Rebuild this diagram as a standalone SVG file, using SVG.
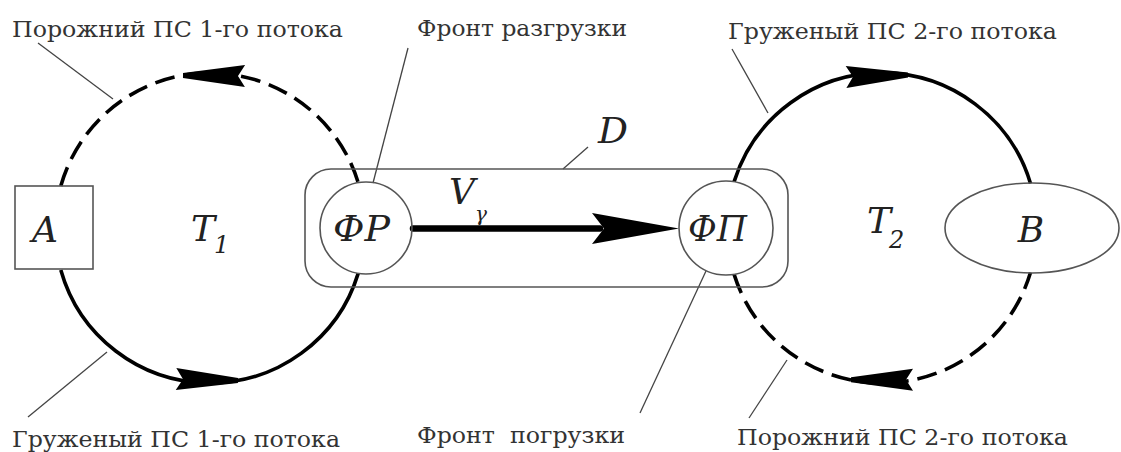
<svg xmlns="http://www.w3.org/2000/svg" width="1121" height="452" viewBox="0 0 1121 452">
<style>
text{font-family:'DejaVu Serif','Liberation Serif',serif}
.lbl{font-size:22px;fill:#333}
.it{font-style:italic;font-size:36px;fill:#222}
.sub{font-style:italic;font-size:24px;fill:#222}
.lead{stroke:#444;stroke-width:1.3;fill:none}
.solid{stroke:#000;stroke-width:3.6;fill:none}
.dash{stroke:#000;stroke-width:3.6;fill:none;stroke-dasharray:20 9}
.thin{stroke:#555;stroke-width:1.6;fill:none}
</style>
<defs>
<polygon id="ah" points="0,-2.5 -62,-11 -55,0 -62,11 0,2.5" fill="#000"/>
</defs>
<rect width="1121" height="452" fill="#fff"/>

<g id="connectors">
  <path class="dash" d="M 60.8 186 A 155 155 0 0 1 358.2 182.6"/>
  <path class="solid" d="M 60.8 270 A 155 155 0 0 0 358.2 273.4"/>
  <path class="solid" d="M 734.1 181.6 A 155 155 0 0 1 1030.5 183.4"/>
  <path class="dash" d="M 734.1 274.4 A 155 155 0 0 0 1030.5 272.6"/>
  <use href="#ah" transform="translate(183,75.5) rotate(180.5)"/>
  <use href="#ah" transform="translate(238,380.6) rotate(1.5)"/>
  <use href="#ah" transform="translate(908,75) rotate(-1.9)"/>
  <use href="#ah" transform="translate(851,379.7) rotate(180)"/>
  <line x1="413" y1="228.5" x2="600" y2="228.5" stroke="#000" stroke-width="6.5" stroke-linecap="round"/>
  <polygon points="679,228.5 592,213 604,228.5 592,244" fill="#000"/>
  <line class="lead" x1="38" y1="43" x2="113" y2="99"/>
  <line class="lead" x1="408" y1="48" x2="373" y2="183"/>
  <line class="lead" x1="588" y1="147" x2="563" y2="169"/>
  <line class="lead" x1="732" y1="49" x2="768" y2="113"/>
  <line class="lead" x1="28" y1="417" x2="107" y2="352"/>
  <line class="lead" x1="640" y1="413" x2="706" y2="271"/>
  <line class="lead" x1="749" y1="418" x2="787" y2="360"/>
</g>

<g id="node-D">
  <rect class="thin" x="305" y="169" width="483" height="118" rx="26" ry="26"/>
  <text class="it" x="598" y="143" textLength="30" lengthAdjust="spacingAndGlyphs">D</text>
</g>
<g id="node-A">
  <rect class="thin" x="15" y="186" width="78" height="83"/>
  <text class="it" x="45" y="242" text-anchor="middle">A</text>
</g>
<g id="node-FR">
  <circle class="thin" cx="366" cy="228" r="46" fill="#fff"/>
  <text class="it" x="333" y="241" textLength="57" lengthAdjust="spacingAndGlyphs">ФР</text>
</g>
<g id="node-FP">
  <circle class="thin" cx="726" cy="228" r="47" fill="#fff"/>
  <text class="it" x="688" y="241" textLength="59" lengthAdjust="spacingAndGlyphs">ФП</text>
</g>
<g id="node-B">
  <ellipse class="thin" cx="1032" cy="228" rx="87" ry="45"/>
  <text class="it" x="1031" y="242" text-anchor="middle">B</text>
</g>
<g id="node-T1">
  <text class="it" x="191" y="241">T</text>
  <text class="sub" x="214" y="253">1</text>
</g>
<g id="node-T2">
  <text class="it" x="867" y="233">T</text>
  <text class="sub" x="889" y="248">2</text>
</g>
<g id="node-V">
  <text class="it" x="449" y="204">V</text>
  <text class="sub" x="475" y="221" style="font-size:20px">γ</text>
</g>

<g id="labels">
  <text class="lbl" x="12" y="37" textLength="331" lengthAdjust="spacingAndGlyphs">Порожний ПС 1-го потока</text>
  <text class="lbl" x="417" y="36" textLength="210" lengthAdjust="spacingAndGlyphs">Фронт разгрузки</text>
  <text class="lbl" x="728" y="39" textLength="329" lengthAdjust="spacingAndGlyphs">Груженый ПС 2-го потока</text>
  <text class="lbl" x="12" y="447" textLength="328" lengthAdjust="spacingAndGlyphs">Груженый ПС 1-го потока</text>
  <text class="lbl" x="417" y="443" textLength="208" lengthAdjust="spacingAndGlyphs" xml:space="preserve">Фронт  погрузки</text>
  <text class="lbl" x="737" y="445" textLength="331" lengthAdjust="spacingAndGlyphs">Порожний ПС 2-го потока</text>
</g>
</svg>
